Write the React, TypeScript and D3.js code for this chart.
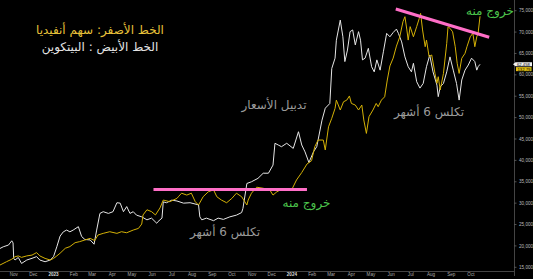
import React from "react";
import * as d3 from "d3";

const btcDates = ["2022-10-11","2022-10-16","2022-10-24","2022-10-29","2022-10-31","2022-11-01","2022-11-03","2022-11-08","2022-11-13","2022-11-21","2022-11-29","2022-12-06","2022-12-11","2022-12-19","2022-12-27","2023-01-01","2023-01-06","2023-01-11","2023-01-16","2023-01-21","2023-01-26","2023-01-31","2023-02-08","2023-02-13","2023-02-18","2023-02-26","2023-03-04","2023-03-08","2023-03-13","2023-03-18","2023-03-26","2023-04-02","2023-04-08","2023-04-13","2023-04-18","2023-04-23","2023-04-28","2023-05-03","2023-05-08","2023-05-16","2023-05-24","2023-05-31","2023-06-08","2023-06-10","2023-06-16","2023-06-18","2023-06-23","2023-07-01","2023-07-09","2023-07-19","2023-07-29","2023-08-11","2023-08-13","2023-08-16","2023-08-23","2023-09-03","2023-09-10","2023-09-18","2023-09-28","2023-10-08","2023-10-16","2023-10-18","2023-10-24","2023-10-31","2023-11-10","2023-11-18","2023-11-26","2023-12-03","2023-12-06","2023-12-11","2023-12-16","2023-12-24","2024-01-03","2024-01-11","2024-01-16","2024-01-21","2024-01-27","2024-02-03","2024-02-08","2024-02-16","2024-02-21","2024-02-28","2024-03-02","2024-03-07","2024-03-09","2024-03-15","2024-03-19","2024-03-22","2024-03-26","2024-03-30","2024-04-03","2024-04-07","2024-04-12","2024-04-15","2024-04-18","2024-04-22","2024-04-27","2024-05-02","2024-05-06","2024-05-10","2024-05-15","2024-05-20","2024-05-25","2024-05-30","2024-06-04","2024-06-09","2024-06-12","2024-06-17","2024-06-22","2024-06-27","2024-07-02","2024-07-05","2024-07-10","2024-07-15","2024-07-20","2024-07-25","2024-07-30","2024-08-04","2024-08-10","2024-08-12","2024-08-15","2024-08-20","2024-08-25","2024-08-30","2024-09-04","2024-09-09","2024-09-13","2024-09-17","2024-09-22","2024-09-27","2024-10-02","2024-10-07","2024-10-10","2024-10-12","2024-10-15"];
const btcValues = [19400,19800,20200,21200,20700,17100,16700,17300,15900,16700,17100,17500,16700,16300,16700,17500,19800,22300,23300,23700,23300,23700,24500,22200,21500,21400,20400,23700,27600,28000,27600,28000,30100,30000,28000,29200,27600,28000,27200,26800,26100,26500,25300,25700,26500,30300,30100,30700,30500,30000,30100,29600,26800,26100,26500,25900,26500,26200,26800,27200,27800,28800,34600,35000,35800,37000,37000,38900,44000,43600,43200,44000,42800,46700,43600,42000,39500,42000,43200,49400,52200,53300,61500,63900,68100,72800,68900,63100,65800,70100,70500,67000,70100,68100,63500,63900,66200,61900,60700,63500,61100,65400,69700,68900,69900,70700,69700,67700,64200,61900,60700,62700,58400,56900,58000,61900,64600,60700,57600,54900,57200,58000,60700,64200,61100,58000,54100,58800,61100,62300,63900,63100,61100,61900,62458];

const nvdaDates = ["2022-10-11","2022-10-21","2022-10-29","2022-11-03","2022-11-08","2022-11-13","2022-11-21","2022-11-29","2022-12-06","2022-12-11","2022-12-19","2022-12-27","2023-01-01","2023-01-06","2023-01-11","2023-01-19","2023-01-26","2023-02-03","2023-02-10","2023-02-18","2023-02-26","2023-03-05","2023-03-10","2023-03-18","2023-03-28","2023-04-08","2023-04-15","2023-04-23","2023-05-03","2023-05-11","2023-05-16","2023-05-18","2023-05-24","2023-05-31","2023-06-06","2023-06-13","2023-06-18","2023-06-28","2023-07-09","2023-07-11","2023-07-16","2023-07-24","2023-07-31","2023-08-06","2023-08-11","2023-08-18","2023-08-26","2023-09-03","2023-09-08","2023-09-15","2023-09-23","2023-10-01","2023-10-08","2023-10-16","2023-10-24","2023-10-26","2023-10-31","2023-11-08","2023-11-18","2023-11-28","2023-12-03","2023-12-09","2023-12-16","2023-12-24","2024-01-01","2024-01-08","2024-01-16","2024-01-24","2024-01-31","2024-02-05","2024-02-10","2024-02-18","2024-02-21","2024-02-26","2024-03-02","2024-03-07","2024-03-09","2024-03-15","2024-03-20","2024-03-25","2024-03-29","2024-04-01","2024-04-07","2024-04-12","2024-04-17","2024-04-20","2024-04-24","2024-04-28","2024-05-04","2024-05-09","2024-05-12","2024-05-17","2024-05-22","2024-05-26","2024-05-30","2024-06-04","2024-06-09","2024-06-14","2024-06-19","2024-06-22","2024-06-25","2024-06-27","2024-06-30","2024-07-05","2024-07-10","2024-07-14","2024-07-16","2024-07-19","2024-07-23","2024-07-25","2024-07-29","2024-08-02","2024-08-07","2024-08-10","2024-08-12","2024-08-15","2024-08-20","2024-08-25","2024-08-27","2024-08-30","2024-09-03","2024-09-07","2024-09-10","2024-09-13","2024-09-17","2024-09-22","2024-09-25","2024-09-30","2024-10-04","2024-10-07","2024-10-10","2024-10-12","2024-10-15"];
const nvdaValues = [12.6,14.2,15.4,16.6,17.0,16.3,17.0,17.4,18.6,17.0,15.8,15.0,15.8,17.0,18.3,20.7,21.5,23.4,23.9,24.7,25.5,24.4,27.1,27.9,28.7,27.9,28.7,28.2,29.5,30.3,32.4,36.8,39.3,38.4,36.8,40.2,44.0,43.2,44.8,45.6,47.3,46.4,47.3,43.2,41.6,45.6,48.0,48.9,45.6,44.0,42.7,44.8,47.3,45.6,41.6,44.0,47.3,50.2,49.7,48.9,46.4,48.0,49.2,48.9,49.2,53.7,57.3,61.4,63.0,69.8,73.0,73.0,68.2,79.4,83.5,88.3,92.3,87.5,91.5,92.3,94.3,90.7,89.9,87.5,89.9,82.7,76.2,84.3,87.5,90.7,89.1,92.3,93.9,102.0,108.8,112.6,118.4,122.8,130.2,132.6,126.2,121.3,127.8,122.9,127.8,131.8,134.2,126.2,118.1,121.3,113.3,114.1,105.2,100.4,103.6,97.2,105.2,119.7,127.8,127.0,125.3,118.1,110.1,105.2,112.5,114.9,118.1,122.9,124.6,118.1,122.9,124.6,132.79];

const yTicks = [15000,20000,25000,30000,35000,40000,45000,50000,55000,60000,65000,70000,75000];
const monthTicks = ["2022-11-01","2022-12-01","2023-01-01","2023-02-01","2023-03-01","2023-04-01","2023-05-01","2023-06-01","2023-07-01","2023-08-01","2023-09-01","2023-10-01","2023-11-01","2023-12-01","2024-01-01","2024-02-01","2024-03-01","2024-04-01","2024-05-01","2024-06-01","2024-07-01","2024-08-01","2024-09-01","2024-10-01"];

// annotation trend lines (date, BTC value)
const baseLine = [["2023-06-03", 33200], ["2024-01-24", 33200]];
const topLine = [["2024-06-08", 75400], ["2024-10-29", 68800]];

const titleNvda = "الخط الأصفر: سهم أنفيديا";
const titleBtc = "الخط الأبيض : البيتكوين";
const noteVol = "تدبيل الأسعار";
const noteBase = "تكلس 6 أشهر";
const noteExit = "خروج منه";

const W = 533, H = 279;
const parse = d3.timeParse("%Y-%m-%d");

export default function App() {
  const x = d3.scaleTime().domain([parse("2022-10-11")!, parse("2024-12-06")!]).range([0, 514]);
  const yB = d3.scaleLinear().domain([15000, 75000]).range([267.3, 10.7]);
  const yN = d3.scaleLinear().domain([11.5, 135.5]).range([267.3, 10.7]);
  const btc = btcDates.map((d, i) => ({ d: parse(d)!, v: btcValues[i] }));
  const nvda = nvdaDates.map((d, i) => ({ d: parse(d)!, v: nvdaValues[i] }));
  const lineB = d3.line<any>().x(p => x(p.d)).y(p => yB(p.v));
  const lineN = d3.line<any>().x(p => x(p.d)).y(p => yN(p.v));
  const fmt = d3.format(",");
  const fmtM = (d: Date) => (d.getMonth() === 0 ? d3.timeFormat("%Y")(d) : d3.timeFormat("%b")(d));
  const lastB = btcValues[btcValues.length - 1];
  const lastN = nvdaValues[nvdaValues.length - 1];
  const tagY = yB(lastB);
  const ar = "'DejaVu Sans', sans-serif";
  const lat = "'Liberation Sans', Arial, sans-serif";
  const pl = (pts: any[]) => pts.map(p => [x(parse(p[0])!), yB(p[1])]);
  const b1 = pl(baseLine), t1 = pl(topLine);
  return (
    <svg width={W} height={H} style={{ position: "fixed", left: 0, top: 0, background: "#000" }}>
      <rect x={0} y={0} width={W} height={H} fill="#000" />
      {/* axes */}
      <line x1={0} x2={514} y1={271.5} y2={271.5} stroke="#555" strokeWidth={0.8} />
      <line x1={514.5} x2={514.5} y1={0} y2={276} stroke="#555" strokeWidth={0.8} />
      {yTicks.map(t => (
        <g key={t}>
          <line x1={514.5} x2={516.5} y1={yB(t)} y2={yB(t)} stroke="#888" strokeWidth={0.6} />
          <text x={519} y={yB(t)} dy="0.35em" fontSize={4.6} fill="#bbb" fontFamily={lat}>{fmt(t)}</text>
        </g>
      ))}
      {monthTicks.map(m => {
        const d = parse(m)!;
        return (
          <text key={m} x={x(d)} y={276} textAnchor="middle" fontSize={4.6}
            fill={d.getMonth() === 0 ? "#ddd" : "#aaa"} fontWeight={d.getMonth() === 0 ? "bold" : "normal"} fontFamily={lat}>{fmtM(d)}</text>
        );
      })}
      {/* series */}
      <path d={lineB(btc)!} fill="none" stroke="#e6e6e6" strokeWidth={1} strokeLinejoin="round" />
      <path d={lineN(nvda)!} fill="none" stroke="#d4b106" strokeWidth={1} strokeLinejoin="round" />
      {/* trend lines */}
      <line x1={b1[0][0]} y1={b1[0][1]} x2={b1[1][0]} y2={b1[1][1]} stroke="#ff6ec7" strokeWidth={3} />
      <line x1={t1[0][0]} y1={t1[0][1]} x2={t1[1][0]} y2={t1[1][1]} stroke="#ff6ec7" strokeWidth={3} />
      {/* price tags */}
      <path d={`M513,${tagY} L515.5,${tagY - 2} L532,${tagY - 2} L532,${tagY + 2} L515.5,${tagY + 2} Z`} fill="#f2f2f2" />
      <text x={517} y={tagY} dy="0.35em" fontSize={4.2} fill="#000" fontFamily={lat}>{fmt(lastB)}</text>
      <rect x={516} y={tagY + 2.8} width={15.5} height={4} fill="#e3c012" />
      <text x={517.5} y={tagY + 4.8} dy="0.35em" fontSize={4.2} fill="#000" fontFamily={lat}>{lastN.toFixed(2)}</text>
      {/* annotations */}
      <text x={100} y={30} dy="0.35em" textAnchor="middle" fontSize={12} fill="#e8c23a" fontFamily={ar}>{titleNvda}</text>
      <text x={100} y={47} dy="0.35em" textAnchor="middle" fontSize={12} fill="#e4e4e4" fontFamily={ar}>{titleBtc}</text>
      <text x={274} y={105} dy="0.35em" textAnchor="middle" fontSize={12} fill="#9a9a9a" fontFamily={ar}>{noteVol}</text>
      <text x={225} y={232} dy="0.35em" textAnchor="middle" fontSize={12} fill="#9a9a9a" fontFamily={ar}>{noteBase}</text>
      <text x={429} y={112} dy="0.35em" textAnchor="middle" fontSize={12} fill="#9a9a9a" fontFamily={ar}>{noteBase}</text>
      <text x={306.5} y={203} dy="0.35em" textAnchor="middle" fontSize={12} fill="#4cc44c" fontFamily={ar}>{noteExit}</text>
      <text x={490} y={11} dy="0.35em" textAnchor="middle" fontSize={12} fill="#4cc44c" fontFamily={ar}>{noteExit}</text>
    </svg>
  );
}
